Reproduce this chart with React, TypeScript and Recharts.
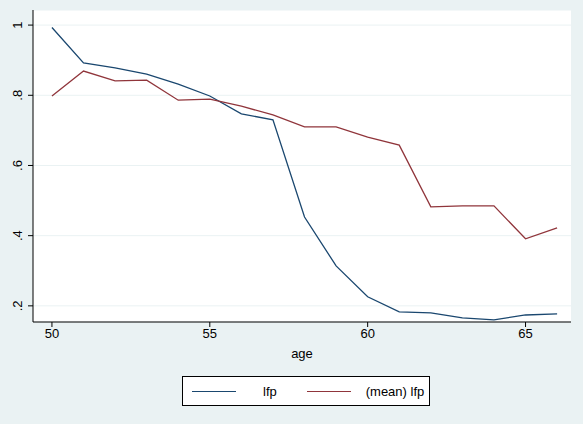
import React from "react";
import { LineChart, Line, XAxis, YAxis, CartesianGrid } from "recharts";

const ages = [50,51,52,53,54,55,56,57,58,59,60,61,62,63,64,65,66];
const lfp = [0.993,0.892,0.878,0.860,0.832,0.798,0.747,0.730,0.453,0.314,0.226,0.183,0.180,0.166,0.160,0.174,0.177];
const meanLfp = [0.798,0.869,0.841,0.843,0.786,0.789,0.769,0.744,0.710,0.710,0.681,0.658,0.482,0.485,0.485,0.391,0.422];
const xTicks = [50,55,60,65];
const yTicks = [0.2,0.4,0.6,0.8,1];
const yLabels = [".2",".4",".6",".8","1"];

const data = ages.map((a, i) => ({ age: a, lfp: lfp[i], mean: meanLfp[i] }));

const YTick = (props: any) => {
  const { x, y, payload } = props;
  const idx = yTicks.indexOf(payload.value);
  return (
    <text x={x - 4} y={y} transform={`rotate(-90 ${x - 4} ${y})`} textAnchor="middle" fontSize={13} fill="#000" fontFamily="Liberation Sans">
      {idx >= 0 ? yLabels[idx] : payload.value}
    </text>
  );
};

export default function App() {
  return (
    <div style={{ position: "absolute", left: 0, top: 0, width: 583, height: 424, background: "#eaf2f3", fontFamily: "Liberation Sans" }}>
      <div style={{ position: "absolute", left: 33, top: 10, width: 538, height: 312, background: "#fff" }} />
      <div style={{ position: "absolute", left: 0, top: 0 }}>
        <LineChart width={583} height={424} data={data} margin={{ top: 10, right: 12, bottom: 62, left: 0 }}>
          <CartesianGrid vertical={false} stroke="#eaf2f3" />
          <XAxis dataKey="age" type="number" domain={[49.4, 66.44]} ticks={xTicks} height={40} stroke="#000"
            tick={{ fontSize: 13, fill: "#000" }} tickSize={5} allowDataOverflow
            label={{ value: "age", position: "insideBottom", offset: 4, fontSize: 13, fill: "#000" }} />
          <YAxis type="number" domain={[0.154, 1.043]} ticks={yTicks} width={33} stroke="#000" tick={<YTick />} tickSize={5} allowDataOverflow />
          <Line dataKey="lfp" stroke="#1a476f" strokeWidth={1.3} dot={false} isAnimationActive={false} />
          <Line dataKey="mean" stroke="#90353b" strokeWidth={1.3} dot={false} isAnimationActive={false} />
        </LineChart>
      </div>
      <div style={{ position: "absolute", left: 182, top: 376, width: 246, height: 28, background: "#fff", border: "1px solid #000", display: "flex", alignItems: "center", fontSize: 13 }}>
        <div style={{ marginLeft: 9, width: 44, height: 0, borderTop: "1.3px solid #1a476f" }} />
        <span style={{ marginLeft: 27 }}>lfp</span>
        <div style={{ marginLeft: 30, width: 44, height: 0, borderTop: "1.3px solid #90353b" }} />
        <span style={{ marginLeft: 15 }}>(mean) lfp</span>
      </div>
    </div>
  );
}
